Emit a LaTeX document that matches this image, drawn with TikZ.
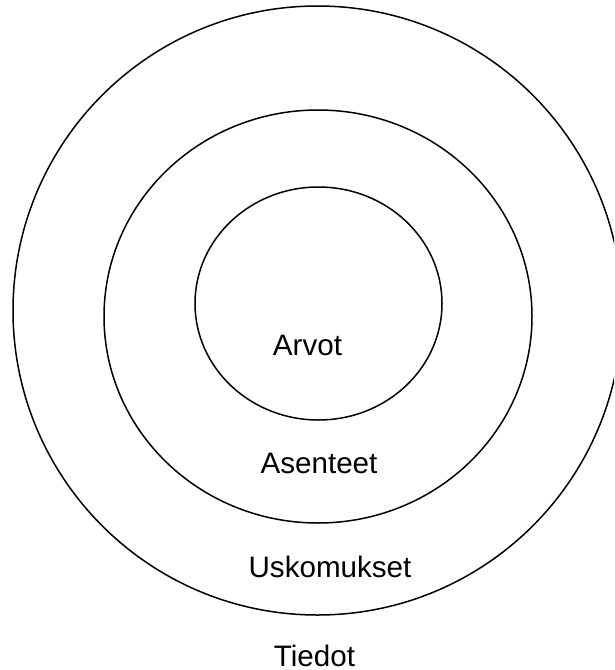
\documentclass[tikz,border=0pt]{standalone}
\usepackage{fontspec}
\setmainfont{Liberation Sans}
\usetikzlibrary{shapes.geometric}
\begin{document}
\begin{tikzpicture}[x=1pt,y=-1pt,
  ring/.style={draw=black,line width=1.5pt,ellipse,inner sep=0pt,outer sep=0pt},
  lbl/.style={anchor=base,inner sep=0pt,font=\fontsize{29.6}{34}\selectfont}]
\useasboundingbox (0,0) rectangle (614,670);
\clip (0,0) rectangle (614,670);
\node[ring,minimum width=609pt,minimum height=609pt] (outer) at (317.5,310.5) {};
\node[ring,minimum width=428pt,minimum height=413pt] (middle) at (318,316.5) {};
\node[ring,minimum width=247pt,minimum height=233pt] (inner) at (318.5,303.5) {};
\node[lbl] (arvot) at (307.5,355) {Arvot};
\node[lbl] (asenteet) at (319,473) {Asenteet};
\node[lbl] (uskomukset) at (330,577) {Uskomukset};
\node[lbl] (tiedot) at (314.5,666) {Tiedot};
\end{tikzpicture}
\end{document}
